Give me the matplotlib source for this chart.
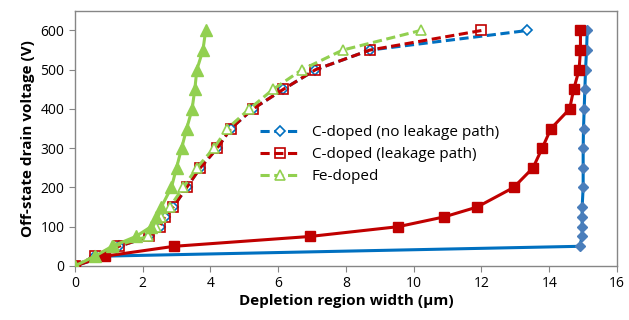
import matplotlib
matplotlib.use("Agg")
import matplotlib.pyplot as plt

plt.rcParams['font.family'] = ['Open Sans', 'DejaVu Sans']

# dashed series (legend)
v_dash = [0, 25, 50, 75, 100, 125, 150, 200, 250, 300, 350, 400, 450, 500, 550, 600]
w_c_noleak = [0, 0.6, 1.3, 2.2, 2.5, 2.65, 2.9, 3.3, 3.7, 4.2, 4.6, 5.25, 6.15, 7.1, 8.7, 13.35]
w_c_leak = [0, 0.6, 1.3, 2.2, 2.5, 2.65, 2.9, 3.3, 3.7, 4.2, 4.6, 5.25, 6.15, 7.1, 8.7, 12.0]
w_fe_dash = [0, 0.6, 1.15, 2.15, 2.4, 2.55, 2.8, 3.2, 3.6, 4.1, 4.5, 5.15, 5.85, 6.7, 7.9, 10.2]

# solid series (no legend)
v_blue_solid = [0, 25, 50, 75, 100, 125, 150, 200, 250, 300, 350, 400, 450, 500, 550, 600]
w_blue_solid = [0, 0.9, 14.9, 14.97, 14.97, 14.97, 14.97, 15.0, 15.0, 15.0, 15.01, 15.03, 15.05, 15.07, 15.1, 15.12]
v_red_solid = [0, 25, 50, 75, 100, 125, 150, 200, 250, 300, 350, 400, 450, 500, 550, 600]
w_red_solid = [0, 0.9, 2.93, 6.93, 9.54, 10.9, 11.87, 12.95, 13.52, 13.79, 14.05, 14.6, 14.72, 14.88, 14.92, 14.92]
v_green_solid = [0, 25, 50, 75, 100, 125, 150, 200, 250, 300, 350, 400, 450, 500, 550, 600]
w_green_solid = [0, 0.6, 1.1, 1.8, 2.25, 2.4, 2.55, 2.85, 3.0, 3.15, 3.3, 3.46, 3.54, 3.6, 3.78, 3.86]

blue = '#0070C0'
red = '#C00000'
green = '#92D050'

fig = plt.figure(figsize=(6.29, 3.2), dpi=100)
ax = fig.add_axes([0.119, 0.169, 0.862, 0.797])

ax.plot(w_c_noleak, v_dash, ls=(0, (3, 1.5)), lw=2.2, color=blue, marker='D', ms=5.5,
        mfc='white', mec=blue, mew=1.2, label='C-doped (no leakage path)', zorder=3)
ax.plot(w_c_leak, v_dash, ls=(0, (3, 1.5)), lw=2.2, color=red, marker='s', ms=7,
        mfc='none', mec=red, mew=1.2, label='C-doped (leakage path)', zorder=3)
ax.plot(w_fe_dash, v_dash, ls=(0, (3, 1.5)), lw=2.2, color=green, marker='^', ms=7,
        mfc='white', mec=green, mew=1.2, label='Fe-doped', zorder=3)

ax.plot(w_blue_solid, v_blue_solid, '-', lw=2.2, color=blue, marker='D', ms=5.5,
        mfc='#4A7EBB', mec='#4A7EBB', zorder=4)
ax.plot(w_red_solid, v_red_solid, '-', lw=2.2, color=red, marker='s', ms=7.5,
        mfc=red, mec=red, zorder=5)
ax.plot(w_green_solid, v_green_solid, '-', lw=2.2, color=green, marker='^', ms=8,
        mfc=green, mec=green, zorder=6)

ax.set_xlim(0, 16)
ax.set_ylim(0, 650)
ax.set_xticks(range(0, 17, 2))
ax.set_yticks(range(0, 601, 100))
for s in ax.spines.values():
    s.set_color('#868686')
    s.set_linewidth(1.0)
ax.tick_params(axis='both', colors='#868686', labelcolor='black', labelsize=10,
               direction='out', length=4)
ax.set_xlabel('Depletion region width (\u00b5m)', fontsize=11, fontweight='bold', labelpad=2)
ax.set_ylabel('Off-state drain voltage (V)', fontsize=11, fontweight='bold', labelpad=4)

ax.legend(loc='upper left', bbox_to_anchor=(0.33, 0.575), frameon=False, fontsize=11,
          handlelength=2.6, labelspacing=0.45, borderaxespad=0)

fig.savefig('out.png', dpi=100)
